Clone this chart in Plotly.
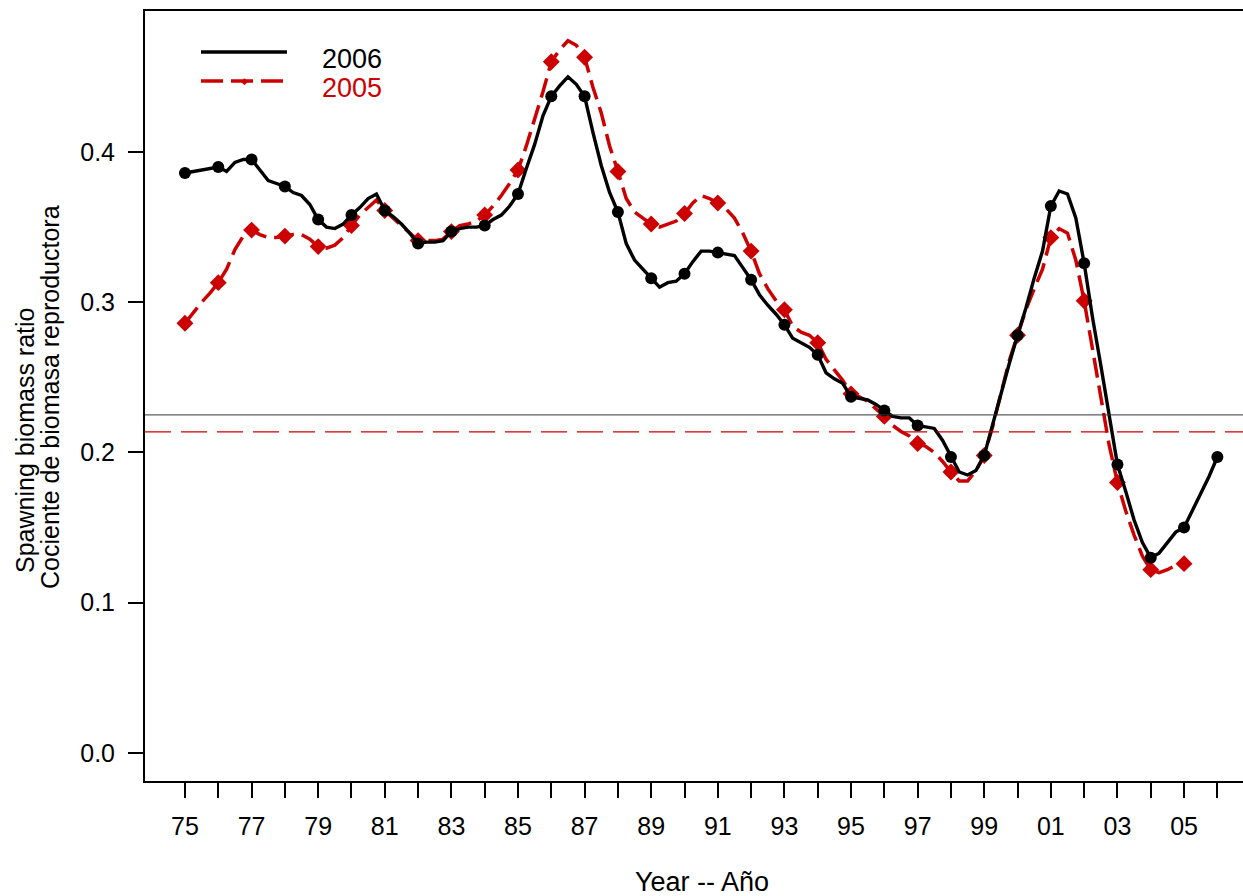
import numpy as np
import plotly.graph_objects as go

# quarterly spawning biomass ratio, 2006 assessment (1975.00 .. 2006.00)
sbr_2006 = [
    0.386, 0.387, 0.388, 0.389, 0.390, 0.387, 0.393, 0.395,   # 75-76
    0.395, 0.388, 0.381, 0.379, 0.377, 0.373, 0.371, 0.365,   # 77-78
    0.355, 0.350, 0.349, 0.352, 0.358, 0.363, 0.369, 0.372,   # 79-80
    0.361, 0.357, 0.352, 0.346, 0.339, 0.340, 0.340, 0.341,   # 81-82
    0.347, 0.349, 0.350, 0.350, 0.351, 0.355, 0.358, 0.364,   # 83-84
    0.372, 0.389, 0.405, 0.424, 0.437, 0.444, 0.450, 0.445,   # 85-86
    0.437, 0.413, 0.391, 0.373, 0.360, 0.339, 0.328, 0.322,   # 87-88
    0.316, 0.310, 0.313, 0.314, 0.319, 0.327, 0.334, 0.334,   # 89-90
    0.333, 0.332, 0.331, 0.323, 0.315, 0.305, 0.298, 0.292,   # 91-92
    0.285, 0.276, 0.273, 0.270, 0.265, 0.253, 0.249, 0.246,   # 93-94
    0.237, 0.236, 0.235, 0.232, 0.228, 0.224, 0.223, 0.223,   # 95-96
    0.218, 0.217, 0.216, 0.208, 0.197, 0.187, 0.185, 0.188,   # 97-98
    0.198, 0.219, 0.238, 0.259, 0.278, 0.296, 0.316, 0.334,   # 99-00
    0.364, 0.374, 0.372, 0.356, 0.326, 0.290, 0.258, 0.224,   # 01-02
    0.192, 0.174, 0.155, 0.140, 0.130, 0.133, 0.140, 0.147,   # 03-04
    0.150, 0.161, 0.173, 0.184, 0.197,                        # 05-06
]

# quarterly spawning biomass ratio, 2005 assessment (1975.00 .. 2005.00)
sbr_2005 = [
    0.286, 0.293, 0.300, 0.306, 0.313, 0.322, 0.335, 0.344,
    0.348, 0.345, 0.343, 0.343, 0.344, 0.345, 0.345, 0.342,
    0.337, 0.336, 0.338, 0.343, 0.351, 0.358, 0.363, 0.368,
    0.361, 0.356, 0.351, 0.346, 0.341, 0.341, 0.341, 0.342,
    0.347, 0.351, 0.352, 0.354, 0.358, 0.364, 0.371, 0.379,
    0.388, 0.404, 0.422, 0.440, 0.460, 0.468, 0.474, 0.471,
    0.463, 0.443, 0.426, 0.404, 0.387, 0.369, 0.360, 0.356,
    0.352, 0.350, 0.352, 0.354, 0.359, 0.366, 0.371, 0.369,
    0.366, 0.362, 0.356, 0.346, 0.334, 0.319, 0.309, 0.301,
    0.295, 0.284, 0.280, 0.278, 0.273, 0.262, 0.255, 0.248,
    0.239, 0.237, 0.234, 0.229, 0.224, 0.218, 0.214, 0.211,
    0.206, 0.204, 0.200, 0.194, 0.187, 0.181, 0.181, 0.188,
    0.198, 0.217, 0.239, 0.261, 0.278, 0.295, 0.309, 0.322,
    0.343, 0.349, 0.346, 0.328, 0.301, 0.268, 0.237, 0.205,
    0.180, 0.161, 0.145, 0.131, 0.122, 0.120, 0.122, 0.125,
    0.126,
]

# SBR at MSY for each assessment
sbr_msy_2006 = 0.225
sbr_msy_2005 = 0.2137

tick_years = list(range(1975, 2007))
tick_labels = [f'{y % 100:02d}' if y % 2 == 1 else '' for y in tick_years]

BLACK = 'black'
RED = 'rgb(204,0,0)'
FONT = 'Liberation Sans, Arial, sans-serif'

t06 = 1975 + 0.25 * np.arange(len(sbr_2006))
t05 = 1975 + 0.25 * np.arange(len(sbr_2005))
yr06 = t06[::4]
yr05 = t05[::4]

fig = go.Figure()

# reference levels
fig.add_hline(y=sbr_msy_2006, line=dict(color='#333333', width=1))
fig.add_hline(y=sbr_msy_2005, line=dict(color=RED, width=1.2, dash='26px,10px'))

# 2005 assessment
fig.add_trace(go.Scatter(x=t05, y=sbr_2005, mode='lines',
                         line=dict(color=RED, width=3.5, dash='20px,8px')))
fig.add_trace(go.Scatter(x=yr05, y=sbr_2005[::4], mode='markers',
                         marker=dict(color=RED, symbol='diamond', size=13)))

# 2006 assessment
fig.add_trace(go.Scatter(x=t06, y=sbr_2006, mode='lines',
                         line=dict(color=BLACK, width=3.4)))
fig.add_trace(go.Scatter(x=yr06, y=sbr_2006[::4], mode='markers',
                         marker=dict(color=BLACK, symbol='circle', size=12)))

# hand-made legend, top left
fig.add_shape(type='line', xref='paper', yref='paper', x0=0.051, x1=0.1293, y0=0.9468, y1=0.9468,
              line=dict(color=BLACK, width=3.4))
fig.add_shape(type='line', xref='paper', yref='paper', x0=0.051, x1=0.1293, y0=0.9091, y1=0.9091,
              line=dict(color=RED, width=3.4, dash='22px,8px'))
fig.add_annotation(xref='paper', yref='paper', x=0.0905, y=0.9091, text='◆', showarrow=False,
                   font=dict(color=RED, size=9, family=FONT), xanchor='center', yanchor='middle')
fig.add_annotation(xref='paper', yref='paper', x=0.1594, y=0.9377, text='2006', showarrow=False,
                   font=dict(color=BLACK, size=27, family=FONT), xanchor='left', yanchor='middle')
fig.add_annotation(xref='paper', yref='paper', x=0.1594, y=0.900, text='2005', showarrow=False,
                   font=dict(color=RED, size=27, family=FONT), xanchor='left', yanchor='middle')

# axis titles
fig.add_annotation(xref='paper', yref='paper', x=0.5073, y=-0.1312, text='Year -- Año', showarrow=False,
                   font=dict(color=BLACK, size=27, family=FONT), xanchor='center', yanchor='middle')
fig.add_annotation(xref='paper', yref='paper', x=-0.1093, y=0.4429, text='Spawning biomass ratio',
                   showarrow=False, textangle=-90,
                   font=dict(color=BLACK, size=25, family=FONT), xanchor='center', yanchor='middle')
fig.add_annotation(xref='paper', yref='paper', x=-0.0865, y=0.4987, text='Cociente de biomasa reproductora',
                   showarrow=False, textangle=-90,
                   font=dict(color=BLACK, size=25, family=FONT), xanchor='center', yanchor='middle')

fig.update_traces(showlegend=False, hoverinfo='skip')
fig.update_layout(
    width=1243, height=896,
    margin=dict(l=145, r=0, t=11, b=115, pad=0),
    paper_bgcolor='white',
    plot_bgcolor='white',
    font=dict(family=FONT, color=BLACK, size=25),
)
fig.update_xaxes(
    range=[1973.80, 2006.77],
    tickvals=tick_years, ticktext=tick_labels,
    ticks='outside', ticklen=15, tickwidth=2, tickcolor=BLACK,
    showline=True, linewidth=2, linecolor=BLACK, mirror=True,
    showgrid=False, zeroline=False,
    tickfont=dict(size=25, family=FONT),
    ticklabelstandoff=7,
)
fig.update_yaxes(
    range=[-0.01864, 0.4938],
    tickvals=[0.0, 0.1, 0.2, 0.3, 0.4], tickformat='.1f',
    ticks='outside', ticklen=15, tickwidth=2, tickcolor=BLACK,
    showline=True, linewidth=2, linecolor=BLACK, mirror=False,
    showgrid=False, zeroline=False,
    tickfont=dict(size=25, family=FONT),
    ticklabelstandoff=8,
)

# drop the browser's default page margin so the chart sits at the window corner
fig.write_html('out.html', config={'displayModeBar': False},
               post_script="document.body.style.margin='0';")
